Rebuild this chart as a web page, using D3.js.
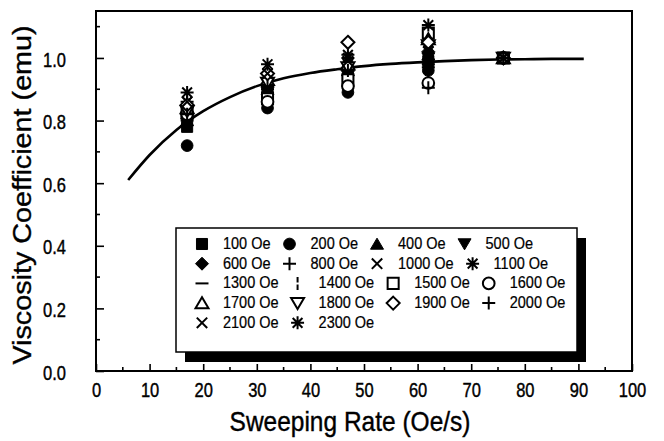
<!DOCTYPE html>
<html>
<head>
<meta charset="utf-8">
<script src="https://cdn.jsdelivr.net/npm/d3@7"></script>
<style>
  body { margin: 0; background: #fff; }
  svg { display: block; font-family: "Liberation Sans", Arial, sans-serif; }
  text { fill: #000; stroke: #000; stroke-width: 0.35px; }
</style>
</head>
<body>
<div id="chartContainer"></div>
<script>
// sweep rates (Oe/s) at which each field was measured
var sweepRates = [17, 32, 47, 62, 76]

var fieldLabels = ['100 Oe', '200 Oe', '400 Oe', '500 Oe', '600 Oe', '800 Oe', '1000 Oe', '1100 Oe',
                   '1300 Oe', '1400 Oe', '1500 Oe', '1600 Oe', '1700 Oe', '1800 Oe', '1900 Oe', '2000 Oe',
                   '2100 Oe', '2300 Oe']

var markerTypes = ['squareF', 'circleF', 'triF', 'triDownF', 'diamondF', 'plus', 'cross', 'star',
                   'dash', 'bar', 'squareO', 'circleO', 'triO', 'triDownO', 'diamondO', 'plus',
                   'cross', 'star']

// viscosity coefficient per field, one value per sweep rate (normalised to 1 at 76 Oe/s)
var coef100  = [0.78, 0.88, 0.94, 0.99, 1.00]
var coef200  = [0.72, 0.84, 0.89, 0.96, 1.00]
var coef400  = [0.80, 0.90, 0.96, 1.01, 1.00]
var coef500  = [0.79, 0.89, 0.95, 1.00, 1.00]
var coef600  = [0.82, 0.91, 0.97, 1.02, 1.00]
var coef800  = [0.81, 0.90, 0.96, 0.98, 1.00]
var coef1000 = [0.83, 0.93, 0.98, 1.03, 1.00]
var coef1100 = [0.86, 0.95, 1.00, 1.05, 1.00]
var coef1300 = [0.80, 0.89, 0.96, 0.97, 1.00]
var coef1400 = [0.84, 0.92, 0.97, 0.95, 1.00]
var coef1500 = [0.83, 0.87, 0.93, 1.08, 1.00]
var coef1600 = [0.82, 0.86, 0.91, 0.92, 1.00]
var coef1700 = [0.84, 0.93, 0.98, 1.06, 1.00]
var coef1800 = [0.83, 0.92, 0.97, 1.04, 1.00]
var coef1900 = [0.85, 0.95, 1.05, 1.05, 1.00]
var coef2000 = [0.82, 0.91, 0.96, 0.905, 1.00]
var coef2100 = [0.86, 0.95, 0.99, 1.02, 1.00]
var coef2300 = [0.89, 0.98, 1.01, 1.105, 1.00]

var coefs = [coef100, coef200, coef400, coef500, coef600, coef800, coef1000, coef1100,
             coef1300, coef1400, coef1500, coef1600, coef1700, coef1800, coef1900, coef2000,
             coef2100, coef2300]

// fitted curve
var curveRate = [6, 10, 15, 20, 25, 30, 35, 40, 45, 50, 55, 60, 65, 70, 75, 80, 85, 91]
var curveCoef = [0.61, 0.69, 0.77, 0.83, 0.875, 0.91, 0.935, 0.952, 0.964, 0.974, 0.981, 0.986, 0.99, 0.993, 0.995, 0.996, 0.997, 0.997]

var xTicks = [0, 10, 20, 30, 40, 50, 60, 70, 80, 90, 100]
var yTicks = [0.0, 0.2, 0.4, 0.6, 0.8, 1.0]


function markerPath(type, s) {
    var p = d3.path(), h = s / 2
    if (type == 'plus') {
        p.moveTo(-h, 0); p.lineTo(h, 0); p.moveTo(0, -h); p.lineTo(0, h)
    } else if (type == 'cross') {
        var c = h * 0.8
        p.moveTo(-c, -c); p.lineTo(c, c); p.moveTo(-c, c); p.lineTo(c, -c)
    } else if (type == 'star') {
        var c = h * 0.75
        p.moveTo(-h, 0); p.lineTo(h, 0); p.moveTo(0, -h); p.lineTo(0, h)
        p.moveTo(-c, -c); p.lineTo(c, c); p.moveTo(-c, c); p.lineTo(c, -c)
    } else if (type == 'dash') {
        p.moveTo(-h, 0); p.lineTo(h, 0)
    } else if (type == 'bar') {
        p.moveTo(0, -h); p.lineTo(0, -1); p.moveTo(0, 1); p.lineTo(0, h)
    } else if (type.indexOf('square') == 0) {
        var c = h * 0.85
        p.rect(-c, -c, 2 * c, 2 * c)
    } else if (type.indexOf('circle') == 0) {
        p.arc(0, 0, h * 0.9, 0, 2 * Math.PI)
    } else if (type.indexOf('triDown') == 0) {
        p.moveTo(-h, -h * 0.8); p.lineTo(h, -h * 0.8); p.lineTo(0, h * 0.9); p.closePath()
    } else if (type.indexOf('tri') == 0) {
        p.moveTo(-h, h * 0.8); p.lineTo(h, h * 0.8); p.lineTo(0, -h * 0.9); p.closePath()
    } else if (type.indexOf('diamond') == 0) {
        p.moveTo(0, -h); p.lineTo(h, 0); p.lineTo(0, h); p.lineTo(-h, 0); p.closePath()
    }
    return p.toString()
}

function styleMarker(sel, type) {
    var filled = type.slice(-1) == 'F'
    var open = type.slice(-1) == 'O'
    sel.attr('d', markerPath(type, 13))
       .style('fill', filled ? '#000' : (open ? '#fff' : 'none'))
       .style('stroke', '#000')
       .style('stroke-width', filled ? 1 : 2)
}


function renderChart() {
    var width = 664, height = 441
    var margin = {top: 11, right: 32, bottom: 70, left: 96}

    var svg = d3.select('#chartContainer').append('svg')
                .attr('width', width)
                .attr('height', height)

    var xScale = d3.scaleLinear().domain([0, 100]).range([margin.left, width - margin.right])
    var yScale = d3.scaleLinear().domain([0, 1.15]).range([height - margin.bottom, margin.top])

    // inward ticks
    var xAxis = d3.axisBottom(xScale).tickValues(xTicks).tickSizeInner(-7).tickSizeOuter(0).tickPadding(10)
    var yAxis = d3.axisLeft(yScale).tickValues(yTicks).tickSizeInner(-8).tickSizeOuter(0).tickPadding(30)
                  .tickFormat(d3.format('.1f'))

    var gx = svg.append('g').attr('transform', 'translate(0,' + (height - margin.bottom) + ')').call(xAxis)
    var gy = svg.append('g').attr('transform', 'translate(' + margin.left + ',0)').call(yAxis)

    // minor ticks
    gx.selectAll('.minor').data(d3.range(5, 100, 10)).enter().append('line')
      .attr('x1', function(d){ return xScale(d) }).attr('x2', function(d){ return xScale(d) })
      .attr('y1', 0).attr('y2', -4)
    gy.selectAll('.minor').data([0.1, 0.3, 0.5, 0.7, 0.9, 1.1]).enter().append('line')
      .attr('y1', function(d){ return yScale(d) }).attr('y2', function(d){ return yScale(d) })
      .attr('x1', 0).attr('x2', 4)

    svg.selectAll('.domain').remove()
    svg.selectAll('.tick line, g line').style('stroke', '#000').style('stroke-width', 1.6)
    svg.selectAll('.tick text').style('font-size', '16.5px')
       .style('font-family', '"Liberation Sans", Arial, sans-serif')
    // the scan is a bit stretched vertically
    gx.selectAll('.tick text').attr('transform', 'scale(1,1.18)')
    gy.selectAll('.tick text').attr('transform', 'scale(1,1.18)').attr('dy', '0.42em')

    // frame
    svg.append('rect')
       .attr('x', xScale(0)).attr('y', yScale(1.15))
       .attr('width', xScale(100) - xScale(0)).attr('height', yScale(0) - yScale(1.15))
       .style('fill', 'none').style('stroke', '#000').style('stroke-width', 2)

    // fitted line
    var line = d3.line()
                 .x(function(d, i){ return xScale(curveRate[i]) })
                 .y(function(d){ return yScale(d) })
                 .curve(d3.curveMonotoneX)
    svg.append('path').datum(curveCoef).attr('d', line)
       .style('fill', 'none').style('stroke', '#000').style('stroke-width', 2.6)

    // data points
    coefs.forEach(function(vals, k) {
        svg.selectAll('.pt' + k).data(vals).enter().append('path')
           .attr('class', 'pt' + k)
           .attr('transform', function(d, i){ return 'translate(' + xScale(sweepRates[i]) + ',' + yScale(d) + ')' })
           .call(styleMarker, markerTypes[k])
    })

    // legend with shadow
    var lx = 176, ly = 228, lw = 401, lh = 124
    svg.append('rect').attr('x', lx + 9).attr('y', ly + 10).attr('width', lw).attr('height', lh).style('fill', '#000')
    svg.append('rect').attr('x', lx).attr('y', ly).attr('width', lw).attr('height', lh)
       .style('fill', '#fff').style('stroke', '#000').style('stroke-width', 1.5)

    var perRow = 4
    var legend = svg.append('g')
    var rowX = {}
    fieldLabels.forEach(function(label, k) {
        var row = Math.floor(k / perRow)
        var cy = ly + 16 + row * 19.7
        var cx = rowX[row] === undefined ? lx + 26 : rowX[row]
        legend.append('path').attr('transform', 'translate(' + cx + ',' + cy + ')')
              .call(styleMarker, markerTypes[k])
        var t = legend.append('text').attr('transform', 'translate(' + (cx + 21) + ',' + (cy + 5) + ') scale(1,1.15)')
                      .style('font-size', '14.5px').style('stroke-width', 0.2).text(label)
        rowX[row] = cx + 21 + t.node().getComputedTextLength() + 19
    })

    svg.append('text').attr('transform', 'translate(350,431) scale(1,1.12)')
       .attr('text-anchor', 'middle').style('font-size', '24.5px').text('Sweeping Rate (Oe/s)')
    svg.append('text').attr('transform', 'translate(31,195) rotate(-90) scale(1.15,1)')
       .attr('text-anchor', 'middle').style('font-size', '25px').text('Viscosity Coefficient (emu)')
}

renderChart()
</script>
</body>
</html>
